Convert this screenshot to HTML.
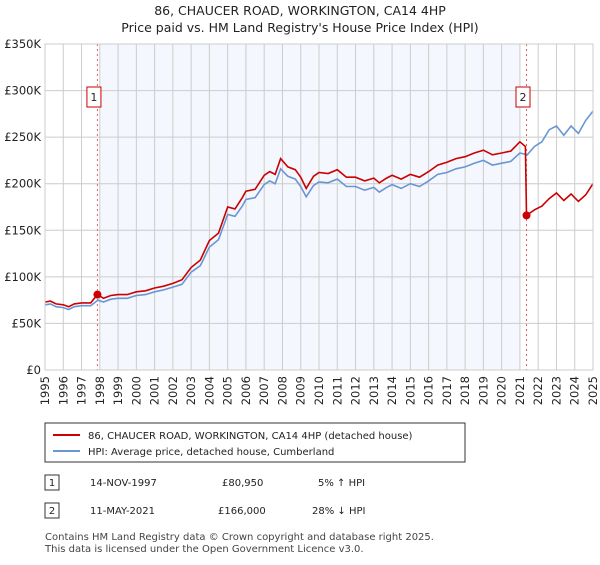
<!DOCTYPE html>
<html><head><meta charset="utf-8"><style>
body{margin:0;background:#fff;font-family:"Liberation Sans","DejaVu Sans",sans-serif;}
svg text{font-family:"DejaVu Sans","Liberation Sans",sans-serif;}
</style></head><body>
<svg id="c" width="600" height="560">
<text x="300" y="15" text-anchor="middle" font-size="12.5" fill="#222">86, CHAUCER ROAD, WORKINGTON, CA14 4HP</text>
<text x="300" y="32" text-anchor="middle" font-size="12.5" fill="#222">Price paid vs. HM Land Registry's House Price Index (HPI)</text>
<g id="plot"></g>
<g>
<rect x="45" y="423" width="420" height="39" fill="#fff" stroke="#333" stroke-width="1"/>
<line x1="53" y1="435" x2="80" y2="435" stroke="#cc0000" stroke-width="2"/>
<text x="88" y="439" font-size="10" fill="#222">86, CHAUCER ROAD, WORKINGTON, CA14 4HP (detached house)</text>
<line x1="53" y1="451" x2="80" y2="451" stroke="#6a96d2" stroke-width="2"/>
<text x="88" y="455" font-size="10" fill="#222">HPI: Average price, detached house, Cumberland</text>
</g>
<g font-size="10" fill="#222">
<rect x="45" y="475" width="14" height="15" fill="#fff" stroke="#333"/><text x="52" y="486" text-anchor="middle">1</text>
<text x="90" y="486">14-NOV-1997</text><text x="222" y="486">£80,950</text><text x="318" y="486">5% ↑ HPI</text>
<rect x="45" y="503" width="14" height="15" fill="#fff" stroke="#333"/><text x="52" y="514" text-anchor="middle">2</text>
<text x="90" y="514">11-MAY-2021</text><text x="218" y="514">£166,000</text><text x="312" y="514">28% ↓ HPI</text>
</g>
<text x="45" y="540" font-size="10" fill="#444">Contains HM Land Registry data © Crown copyright and database right 2025.</text>
<text x="45" y="552" font-size="10" fill="#444">This data is licensed under the Open Government Licence v3.0.</text>
</svg>
<script>
const hpiDates=[1995,1995.3,1995.6,1996,1996.3,1996.6,1997,1997.5,1997.9,1998.2,1998.6,1999,1999.5,2000,2000.5,2001,2001.5,2002,2002.5,2003,2003.5,2004,2004.5,2005,2005.4,2005.8,2006,2006.5,2007,2007.3,2007.6,2007.9,2008.3,2008.7,2009,2009.3,2009.7,2010,2010.5,2011,2011.5,2012,2012.5,2013,2013.3,2013.7,2014,2014.5,2015,2015.5,2016,2016.5,2017,2017.5,2018,2018.5,2019,2019.5,2020,2020.5,2021,2021.4,2021.8,2022.2,2022.6,2023,2023.4,2023.8,2024.2,2024.6,2025];
const hpiValues=[70,71,68,67,65,68,69,69,75,73,76,77,77,80,81,84,86,89,92,105,112,132,140,167,165,176,183,185,199,203,200,216,208,205,197,186,198,202,201,205,197,197,193,196,191,196,199,195,200,197,203,210,212,216,218,222,225,220,222,224,233,231,240,245,258,262,252,262,254,268,278];
const priceDates=[1995,1995.3,1995.6,1996,1996.3,1996.6,1997,1997.5,1997.87,1998.2,1998.6,1999,1999.5,2000,2000.5,2001,2001.5,2002,2002.5,2003,2003.5,2004,2004.5,2005,2005.4,2005.8,2006,2006.5,2007,2007.3,2007.6,2007.9,2008.3,2008.7,2009,2009.3,2009.7,2010,2010.5,2011,2011.5,2012,2012.5,2013,2013.3,2013.7,2014,2014.5,2015,2015.5,2016,2016.5,2017,2017.5,2018,2018.5,2019,2019.5,2020,2020.5,2021,2021.3,2021.36,2021.8,2022.2,2022.6,2023,2023.4,2023.8,2024.2,2024.6,2025];
const priceValues=[73,74,71,70,68,71,72,72,81,77,80,81,81,84,85,88,90,93,97,110,118,139,147,175,173,185,192,194,209,213,210,227,218,215,207,195,208,212,211,215,207,207,203,206,201,206,209,205,210,207,213,220,223,227,229,233,236,231,233,235,245,240,166,172,176,184,190,182,189,181,188,200];
const sales=[[1997.87,80.95,'1'],[2021.36,166,'2']];
const yTicks=[0,50,100,150,200,250,300,350];
const yLabels=['£0','£50K','£100K','£150K','£200K','£250K','£300K','£350K'];
const xYears=[1995,1996,1997,1998,1999,2000,2001,2002,2003,2004,2005,2006,2007,2008,2009,2010,2011,2012,2013,2014,2015,2016,2017,2018,2019,2020,2021,2022,2023,2024,2025];
const L=45,R=593,T=44,B=370;
const xs=y=>L+(y-1995)/30*(R-L);
const ys=v=>B-v/350*(B-T);
const NS='http://www.w3.org/2000/svg';
const g=document.getElementById('plot');
function mk(t,a){const e=document.createElementNS(NS,t);for(const k in a)e.setAttribute(k,a[k]);g.appendChild(e);return e;}
let e=mk('rect',{x:L,y:T,width:R-L,height:B-T,fill:'#fff'});


e=mk('rect',{x:xs(1998),y:T,width:xs(2021)-xs(1998),height:B-T,fill:'#f4f7fd'});


yTicks.forEach((v,i)=>{
 const l=mk('line',{x1:L,x2:R,y1:ys(v),y2:ys(v),stroke:'#ccc','stroke-width':1});
 
 
 const t=mk('text',{x:L-4,y:ys(v)+4,'text-anchor':'end','font-size':11.5,fill:'#222'});
 t.textContent=yLabels[i];
 
 
});
xYears.forEach(yr=>{
 const x=xs(yr);
 const l=mk('line',{x1:x,x2:x,y1:T,y2:B,stroke:'#ccc','stroke-width':1});
 
 
 const t=mk('text',{x:0,y:0,'text-anchor':'end','font-size':11.5,fill:'#222',transform:`translate(${x+4},${B+6}) rotate(-90)`});
 t.textContent=yr;
 
 
});
sales.forEach(s=>{
 const l=mk('line',{x1:xs(s[0]),x2:xs(s[0]),y1:T,y2:B,stroke:'#e06060','stroke-width':1,'stroke-dasharray':'2,3'});
 
 
});
const line=(d,v,c)=>d.map((x,i)=>`${i?'L':'M'}${xs(x).toFixed(1)},${ys(v[i]).toFixed(1)}`).join('');
e=mk('path',{d:line(hpiDates,hpiValues),fill:'none',stroke:'#6a96d2','stroke-width':1.6});


e=mk('path',{d:line(priceDates,priceValues),fill:'none',stroke:'#cc0000','stroke-width':1.6});


sales.forEach(s=>{
 const c=mk('circle',{cx:xs(s[0]),cy:ys(s[1]),r:4,fill:'#cc0000'});
 
 
 const bx=xs(s[0])-3.5;
 const r=mk('rect',{x:bx-7,y:87,width:14,height:20,fill:'#fff',stroke:'#cc0000','stroke-width':1});
 
 
 const t=mk('text',{x:bx,y:101,'text-anchor':'middle','font-size':11,fill:'#222'});
 t.textContent=s[2];
 
 
});
e=mk('rect',{x:L,y:T,width:R-L,height:B-T,fill:'none',stroke:'#ccc'});


</script>
</body></html>
